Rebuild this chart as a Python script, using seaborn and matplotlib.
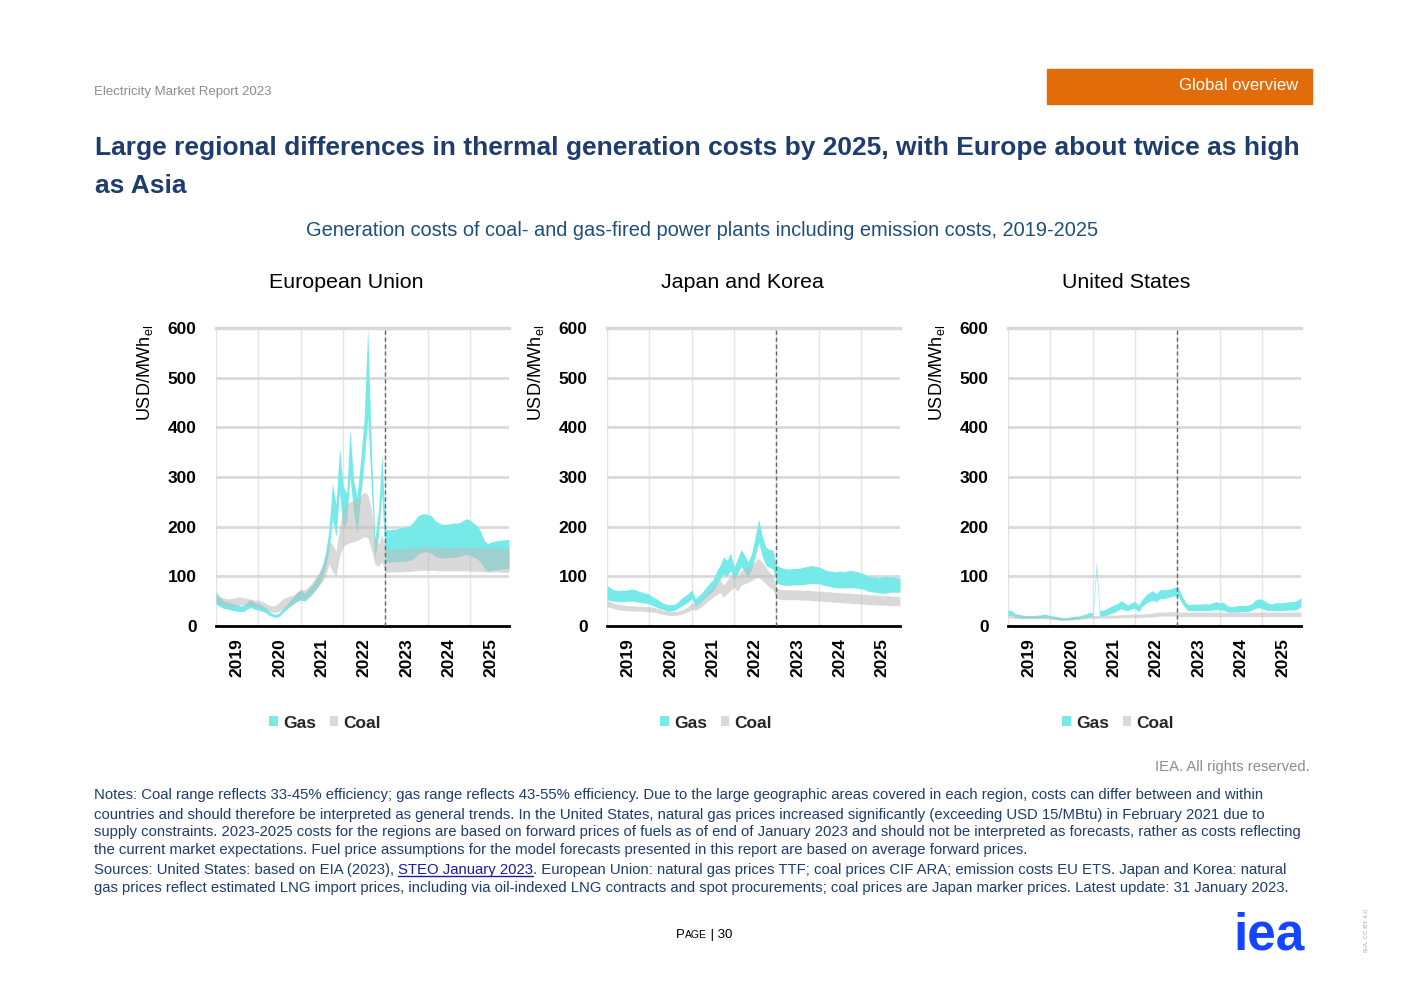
import pandas as pd
import matplotlib.pyplot as plt
import seaborn as sns
from matplotlib.patches import Rectangle
from matplotlib.lines import Line2D

# monthly values, Jan 2019 - Dec 2025 (USD/MWh)
months = pd.date_range('2019-01-01', '2025-12-01', freq='MS')
years = ['2019', '2020', '2021', '2022', '2023', '2024', '2025']
regions = ['European Union', 'Japan and Korea', 'United States']

eu_gas_low = [45, 40, 36, 34, 33, 31, 30, 29, 30, 35, 37, 33,
              32, 30, 27, 22, 19, 17, 20, 27, 33, 40, 45, 50,
              52, 50, 55, 62, 70, 80, 95, 116, 153, 215, 180, 270,
              193, 213, 300, 230, 186, 260, 330, 420, 280, 135, 180, 265,
              129, 128, 129, 129, 130, 130, 131, 132, 136, 143, 148, 149,
              149, 146, 141, 138, 137, 137, 138, 138, 139, 140, 143, 144,
              142, 138, 135, 128, 116, 110, 112, 113, 114, 115, 116, 116]
eu_gas_high = [70, 58, 52, 48, 47, 45, 43, 40, 42, 50, 52, 47,
               45, 42, 37, 30, 25, 23, 27, 36, 43, 52, 60, 68,
               72, 66, 72, 80, 90, 102, 119, 146, 193, 288, 245, 359,
               281, 268, 396, 295, 260, 335, 416, 600, 362, 175, 230, 345,
               195, 193, 195, 195, 197, 198, 200, 203, 210, 220, 225, 226,
               225, 222, 213, 208, 205, 205, 205, 207, 207, 208, 213, 216,
               213, 207, 202, 190, 172, 166, 169, 171, 172, 173, 174, 174]
eu_coal_low = [46, 44, 42, 41, 40, 40, 41, 42, 42, 41, 40, 39,
               38, 36, 33, 30, 28, 28, 30, 35, 38, 42, 45, 50,
               55, 55, 60, 65, 72, 80, 88, 100, 125, 110, 100, 140,
               160, 165, 168, 170, 172, 176, 180, 178, 155, 125, 120, 130,
               108, 108, 109, 109, 109, 110, 110, 110, 111, 111, 112, 112,
               112, 112, 112, 111, 111, 111, 111, 111, 111, 111, 111, 111,
               110, 110, 110, 110, 109, 109, 109, 109, 109, 108, 108, 108]
eu_coal_high = [62, 60, 57, 55, 55, 56, 58, 58, 57, 55, 54, 52,
                52, 50, 46, 42, 40, 42, 48, 55, 58, 60, 62, 68,
                75, 72, 78, 85, 95, 105, 118, 135, 170, 165, 150, 200,
                235, 245, 250, 252, 255, 262, 270, 265, 235, 180, 165, 185,
                154, 154, 155, 155, 155, 156, 156, 157, 157, 158, 158, 159,
                159, 159, 158, 158, 158, 158, 158, 158, 158, 158, 158, 158,
                158, 158, 158, 158, 158, 157, 157, 157, 157, 157, 157, 157]

jk_gas_low = [53, 51, 50, 49, 49, 49, 50, 50, 49, 48, 47, 46,
              44, 41, 38, 35, 33, 30, 30, 31, 35, 40, 44, 48,
              55, 40, 45, 51, 58, 64, 70, 82, 95, 105, 100, 112,
              92, 105, 120, 110, 100, 115, 140, 168, 140, 122, 118, 115,
              86, 84, 82, 82, 82, 83, 83, 83, 84, 85, 86, 85,
              85, 83, 81, 80, 78, 77, 77, 77, 77, 77, 77, 76,
              75, 73, 70, 69, 68, 67, 66, 66, 68, 68, 68, 68]
jk_gas_high = [82, 77, 73, 72, 72, 72, 73, 74, 73, 70, 68, 66,
               64, 58, 55, 50, 46, 43, 43, 43, 48, 55, 61, 65,
               73, 55, 61, 68, 77, 85, 93, 109, 122, 139, 132, 147,
               119, 136, 154, 143, 129, 146, 180, 215, 180, 159, 154, 153,
               122, 119, 116, 115, 115, 116, 116, 117, 119, 120, 122, 120,
               119, 116, 112, 111, 110, 109, 111, 109, 111, 112, 111, 109,
               107, 104, 100, 99, 99, 97, 99, 100, 99, 99, 97, 97]
jk_coal_low = [39, 37, 35, 33, 32, 31, 31, 30, 30, 30, 30, 29,
               29, 28, 27, 25, 23, 22, 21, 21, 22, 24, 26, 29,
               33, 32, 35, 40, 46, 52, 58, 62, 68, 58, 65, 72,
               78, 70, 82, 85, 88, 92, 96, 98, 92, 85, 78, 74,
               56, 54, 53, 53, 53, 53, 53, 52, 52, 52, 51, 51,
               50, 50, 49, 49, 48, 48, 47, 47, 46, 46, 45, 45,
               44, 44, 43, 43, 43, 42, 42, 42, 41, 41, 41, 41]
jk_coal_high = [52, 49, 46, 44, 43, 42, 41, 41, 40, 40, 40, 39,
                39, 38, 36, 34, 31, 30, 29, 29, 30, 32, 35, 39,
                46, 44, 47, 54, 62, 70, 80, 86, 94, 82, 92, 100,
                108, 100, 112, 115, 118, 122, 130, 136, 128, 118, 108, 102,
                76, 74, 73, 73, 73, 73, 73, 72, 72, 72, 71, 71,
                70, 70, 69, 69, 68, 68, 67, 67, 66, 66, 65, 65,
                64, 64, 63, 63, 62, 62, 61, 61, 61, 60, 60, 60]

us_gas_low = [22, 21, 19, 17, 16, 16, 16, 16, 16, 16, 17, 17,
              16, 15, 13, 12, 12, 12, 13, 14, 15, 16, 17, 19,
              20, 110, 20, 21, 22, 25, 27, 31, 35, 32, 31, 35,
              35, 29, 39, 45, 49, 52, 49, 55, 55, 57, 59, 60,
              62, 49, 39, 31, 31, 31, 31, 31, 31, 31, 32, 33,
              32, 32, 29, 28, 28, 28, 29, 29, 29, 32, 35, 37,
              35, 32, 31, 31, 31, 31, 31, 32, 32, 32, 34, 39]
us_gas_high = [32, 31, 25, 24, 22, 21, 21, 21, 22, 22, 24, 23,
               21, 20, 19, 17, 17, 17, 19, 20, 20, 22, 24, 27,
               27, 129, 32, 32, 35, 39, 42, 45, 51, 47, 42, 47,
               49, 42, 53, 62, 67, 71, 65, 73, 73, 73, 75, 77,
               80, 65, 52, 43, 44, 44, 44, 44, 45, 44, 47, 49,
               47, 48, 42, 39, 40, 41, 42, 41, 42, 45, 52, 55,
               53, 49, 45, 45, 47, 47, 47, 48, 49, 49, 52, 57]
us_coal_low = [17, 16, 15, 15, 15, 15, 15, 15, 15, 15, 15, 14,
               14, 13, 13, 12, 12, 12, 12, 13, 13, 14, 14, 15,
               15, 15, 16, 16, 16, 16, 16, 16, 17, 17, 17, 17,
               17, 17, 17, 18, 18, 18, 19, 20, 20, 20, 20, 20,
               19, 19, 19, 19, 19, 19, 19, 19, 19, 19, 19, 19,
               19, 19, 19, 19, 19, 19, 19, 19, 19, 19, 19, 19,
               19, 19, 19, 19, 19, 19, 19, 19, 19, 19, 19, 19]
us_coal_high = [24, 22, 21, 20, 20, 20, 20, 20, 20, 20, 20, 19,
                19, 18, 18, 17, 17, 17, 17, 18, 18, 19, 20, 21,
                21, 21, 22, 22, 22, 22, 22, 22, 23, 23, 23, 24,
                24, 24, 24, 25, 25, 26, 27, 28, 28, 28, 29, 29,
                28, 28, 28, 28, 28, 28, 28, 28, 28, 28, 28, 28,
                28, 28, 28, 28, 28, 28, 28, 28, 28, 28, 28, 28,
                28, 28, 28, 28, 28, 28, 28, 28, 28, 28, 28, 28]

panels = {
    'European Union': (eu_gas_low, eu_gas_high, eu_coal_low, eu_coal_high),
    'Japan and Korea': (jk_gas_low, jk_gas_high, jk_coal_low, jk_coal_high),
    'United States': (us_gas_low, us_gas_high, us_coal_low, us_coal_high),
}

notes = [
    'Notes: Coal range reflects 33-45% efficiency; gas range reflects 43-55% efficiency. Due to the large geographic areas covered in each region, costs can differ between and within',
    'countries and should therefore be interpreted as general trends. In the United States, natural gas prices increased significantly (exceeding USD 15/MBtu) in February 2021 due to',
    'supply constraints. 2023-2025 costs for the regions are based on forward prices of fuels as of end of January 2023 and should not be interpreted as forecasts, rather as costs reflecting',
    'the current market expectations. Fuel price assumptions for the model forecasts presented in this report are based on average forward prices.',
]
sources_a = 'Sources: United States: based on EIA (2023), '
sources_link = 'STEO January 2023'
sources_b = '. European Union: natural gas prices TTF; coal prices CIF ARA; emission costs EU ETS. Japan and Korea: natural'
sources_2 = 'gas prices reflect estimated LNG import prices, including via oil-indexed LNG contracts and spot procurements; coal prices are Japan marker prices. Latest update: 31 January 2023.'

sns.set_theme(style='white')
plt.rcParams['font.family'] = ['Liberation Sans', 'DejaVu Sans']

W, H = 1403, 992
fig = plt.figure(figsize=(W / 100, H / 100), dpi=100)
fig.patch.set_facecolor('white')

NAVY = '#1f3c6e'
GAS = '#76e9e9'
COAL = (0.745, 0.745, 0.745)
NOTE_SIZE = 10.7


def fx(x):
    return x / W


def fy(y):
    return 1 - y / H


# header
fig.text(fx(94), fy(92), 'Electricity Market Report 2023', color='#8c8c8c', fontsize=9.5, va='center')
fig.patches.append(Rectangle((fx(1047), fy(104)), 265 / W, 35 / H, transform=fig.transFigure,
                             color='#e36c0a', zorder=0))
fig.text(fx(1298), fy(86), 'Global overview', color='white', fontsize=12, ha='right', va='center')
fig.text(fx(95), fy(148), 'Large regional differences in thermal generation costs by 2025, with Europe about twice as high',
         color=NAVY, fontsize=19, fontweight='bold', va='center')
fig.text(fx(95), fy(186), 'as Asia', color=NAVY, fontsize=19, fontweight='bold', va='center')
fig.text(fx(702), fy(230), 'Generation costs of coal- and gas-fired power plants including emission costs, 2019-2025',
         color='#1f4e79', fontsize=14.4, ha='center', va='center')

lefts = [216, 607, 1008]
title_x = [346, 742, 1126]
legend_x = [325, 716, 1118]

for i, name in enumerate(regions):
    gas_low, gas_high, coal_low, coal_high = panels[name]
    ax = fig.add_axes([fx(lefts[i]), fy(626), 293 / W, 298 / H])
    ax.set_facecolor('white')
    ax.fill_between(months, gas_low, gas_high, color=GAS, lw=0, label='Gas', zorder=2)
    ax.fill_between(months, coal_low, coal_high, color=COAL, alpha=0.58, lw=0, label='Coal', zorder=3)
    ax.axvline(pd.Timestamp('2023-01-01'), color='#666666', ls=(0, (3, 2)), lw=1, zorder=4)

    ax.set_xlim(months[0], months[-1])
    ax.set_ylim(0, 600)
    ax.set_yticks(range(0, 601, 100))
    ax.set_xticks(pd.to_datetime([y + '-01-01' for y in years]))
    ax.set_xticks(pd.to_datetime([y + '-07-01' for y in years]), labels=years, minor=True)
    ax.tick_params(axis='x', which='major', length=6, width=2, color='black', labelbottom=False, direction='out')
    ax.tick_params(axis='x', which='minor', length=0, pad=9, labelsize=12.5, labelrotation=90)
    ax.tick_params(axis='y', length=0, pad=14, labelsize=12.5)
    for lab in ax.get_xticklabels(minor=True) + ax.get_yticklabels():
        lab.set_fontweight('bold')
        lab.set_color('black')

    ax.set_axisbelow(True)
    ax.yaxis.grid(True, color='#d9d9d9', lw=2)
    ax.xaxis.grid(True, which='major', color='#e4e4e4', lw=1)
    sns.despine(ax=ax, left=True, right=True, top=False)
    ax.spines['top'].set_color('#d9d9d9')
    ax.spines['top'].set_linewidth(2.5)
    ax.spines['bottom'].set_color('black')
    ax.spines['bottom'].set_linewidth(2)

    ax.text(-0.243, 0.85, 'USD/MWh$_{\\mathregular{el}}$', transform=ax.transAxes, rotation=90,
            ha='center', va='center', fontsize=13, color='black')
    fig.text(fx(title_x[i]), fy(282), name, fontsize=15.4, ha='center', va='center', color='black')

    handles, labels = ax.get_legend_handles_labels()
    ax.legend(handles, labels, loc='center',
              bbox_to_anchor=(fx(legend_x[i]), fy(723)), bbox_transform=fig.transFigure,
              ncol=2, frameon=False, prop={'weight': 'bold', 'size': 12.5},
              handlelength=0.5, handleheight=0.5, handletextpad=0.3, columnspacing=0.8)

# footer texts
fig.text(fx(1310), fy(767), 'IEA. All rights reserved.', color='#8c8c8c', fontsize=10.75, ha='right', va='center')
note_y = [795, 815, 832, 850]
for line, y in zip(notes, note_y):
    fig.text(fx(94), fy(y), line, color=NAVY, fontsize=NOTE_SIZE, va='center')

renderer = fig.canvas.get_renderer()


def put_runs(runs, x, y):
    boxes = []
    for txt, kw in runs:
        t = fig.text(fx(x), fy(y), txt, va='center', **kw)
        bb = t.get_window_extent(renderer=renderer)
        boxes.append(bb)
        x = bb.x1
    return boxes


boxes = put_runs([(sources_a, dict(color=NAVY, fontsize=NOTE_SIZE)),
                  (sources_link, dict(color='#1a1aa6', fontsize=NOTE_SIZE)),
                  (sources_b, dict(color=NAVY, fontsize=NOTE_SIZE))], 94, 870)
lb = boxes[1]
fig.add_artist(Line2D([lb.x0 / W, lb.x1 / W], [(lb.y0 + 1) / H, (lb.y0 + 1) / H],
                      transform=fig.transFigure, color='#1a1aa6', lw=1))
fig.text(fx(94), fy(888), sources_2, color=NAVY, fontsize=NOTE_SIZE, va='center')

put_runs([('P', dict(color='black', fontsize=9.5)),
          ('AGE', dict(color='black', fontsize=7.5)),
          (' | 30', dict(color='black', fontsize=9.5))], 676, 935)

fig.text(fx(1269), fy(936), 'iea', color='#1446ff', fontsize=37, fontweight='bold', ha='center', va='center')
fig.text(fx(1366), fy(930), 'IEA. CC BY 4.0.', color='#aaaaaa', fontsize=4.5, rotation=90, ha='center', va='center')

fig.savefig('out.png', dpi=100, facecolor='white')
